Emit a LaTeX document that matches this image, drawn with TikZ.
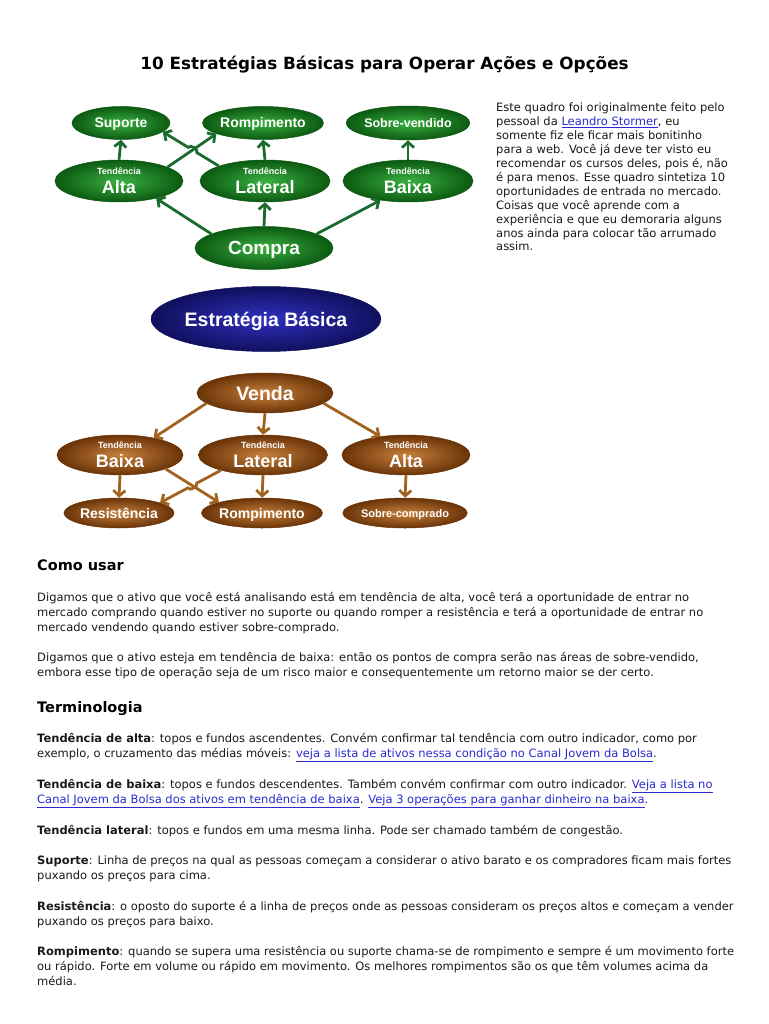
\documentclass[tikz,border=0pt]{standalone}
\usepackage{fontspec}
\setmainfont{DejaVu Sans}
\newfontfamily\nodef{Liberation Sans}
\usetikzlibrary{shapes.geometric,arrows.meta,calc,intersections}
\definecolor{gin}{HTML}{3AB040}
\definecolor{gout}{HTML}{0C5A12}
\definecolor{garr}{HTML}{1B6B2E}
\definecolor{bin}{HTML}{3030C0}
\definecolor{bout}{HTML}{10105E}
\definecolor{brin}{HTML}{C8803C}
\definecolor{brout}{HTML}{6A3408}
\definecolor{brarr}{HTML}{A2621F}
\definecolor{linkblue}{HTML}{2B2BD0}
\definecolor{bodytext}{HTML}{1A1A1A}
\newcommand{\tendtxt}[1]{{\fontsize{9}{10}\selectfont Tendência}\\[5pt]{\fontsize{18}{18}\selectfont #1}}
\newcommand{\lk}[1]{{\color{linkblue}\underline{#1}}}
\begin{document}
\begin{tikzpicture}[x=1pt,y=-1pt,
  ell/.style={ellipse, inner sep=0pt, text=white, font=\nodef\bfseries, align=center},
  gnode/.style={ell, inner color=gin, outer color=gout, draw=gout, line width=0.5pt},
  bnode/.style={ell, inner color=bin, outer color=bout, draw=bout, line width=0.5pt},
  brnode/.style={ell, inner color=brin, outer color=brout, draw=brout, line width=0.5pt},
  one/.style={text depth=0pt, text height=#1},
  garrow/.style={draw=garr, line width=2.8pt, -{Straight Barb[length=5.5pt,width=12pt]}},
  brarrow/.style={draw=brarr, line width=2.8pt, -{Straight Barb[length=5.5pt,width=12pt]}},
  body/.style={anchor=base west, inner sep=0pt, text=bodytext, font=\fontsize{11.5}{14}\selectfont},
  head/.style={anchor=base west, inner sep=0pt, text=black, font=\fontsize{14.5}{17}\selectfont\bfseries}
]
\useasboundingbox[fill=white] (0,0) rectangle (768,1024);

% title
\node[anchor=base, inner sep=0pt, font=\fontsize{16.8}{19}\selectfont\bfseries] (title) at (384.5,70) {10 Estratégias Básicas para Operar Ações e Opções};

% ---------- top diagram (Compra) ----------
\node[gnode, one=10pt, minimum width=98pt, minimum height=33pt, font=\nodef\bfseries\fontsize{14}{14}\selectfont] (sup) at (121,123) {Suporte};
\node[gnode, one=10pt, minimum width=100pt, minimum height=33pt, font=\nodef\bfseries\fontsize{14}{14}\selectfont] (romp) at (263,123) {Rompimento};
\node[gnode, one=9pt, minimum width=99pt, minimum height=34pt, font=\nodef\bfseries\fontsize{12.5}{12.5}\selectfont] (sv) at (408,123) {Sobre-vendido};
\node[gnode, minimum width=128pt, minimum height=42pt] (alta) at (119,181) {\tendtxt{Alta}};
\node[gnode, minimum width=130pt, minimum height=42pt] (lat) at (265,181) {\tendtxt{Lateral}};
\node[gnode, minimum width=130pt, minimum height=42pt] (baixa) at (408,181) {\tendtxt{Baixa}};
\node[gnode, one=13.7pt, minimum width=138pt, minimum height=43pt, font=\nodef\bfseries\fontsize{19}{19}\selectfont] (compra) at (264,248) {Compra};

\draw[garrow] (compra.165) -- (alta.-25);
\draw[garrow] (compra.north) -- (lat.south);
\draw[garrow] (compra.15) -- (baixa.-145);
\draw[garrow] (alta.north) -- (sup.south);
\draw[garrow] (alta.16) -- (romp.-167);
\path[name path=pA] (alta.16) -- (romp.-167);
\path[name path=pB] (lat.162) -- (sup.-12);
\path[name intersections={of=pA and pB, by=hx}];
\draw[garrow] (lat.162) -- ($(hx)!5pt!(lat.162)$) to[bend right=90] ($(hx)!5pt!(sup.-12)$) -- (sup.-12);
\draw[garrow] (lat.north) -- (romp.south);
\draw[garrow] (baixa.north) -- (sv.south);

% ---------- central ----------
\node[bnode, one=14pt, minimum width=227pt, minimum height=65pt, font=\nodef\bfseries\fontsize{19.5}{19.5}\selectfont] (estr) at (266,319) {Estratégia Básica};

% ---------- bottom diagram (Venda) ----------
\node[brnode, one=14pt, minimum width=136pt, minimum height=40pt, font=\nodef\bfseries\fontsize{19.5}{19.5}\selectfont] (venda) at (265,393) {Venda};
\node[brnode, minimum width=126pt, minimum height=40pt] (baixa2) at (120,455) {\tendtxt{Baixa}};
\node[brnode, minimum width=129pt, minimum height=40pt] (lat2) at (263,455) {\tendtxt{Lateral}};
\node[brnode, minimum width=128pt, minimum height=40pt] (alta2) at (406,455) {\tendtxt{Alta}};
\node[brnode, one=10pt, minimum width=98pt, minimum height=30pt, font=\nodef\bfseries\fontsize{14}{14}\selectfont] (res) at (119,513) {Resistência};
\node[brnode, one=10pt, minimum width=97pt, minimum height=30pt, font=\nodef\bfseries\fontsize{14}{14}\selectfont] (romp2) at (262,513) {Rompimento};
\node[brnode, one=8pt, minimum width=96pt, minimum height=30pt, font=\nodef\bfseries\fontsize{11}{11}\selectfont] (sc) at (405,513) {Sobre-comprado};

\draw[brarrow] (venda.-170) -- (baixa2.27);
\draw[brarrow] (venda.south) -- (lat2.north);
\draw[brarrow] (venda.-10) -- (alta2.144);
\draw[brarrow] (baixa2.south) -- (res.north);
\draw[brarrow] (baixa2.-17) -- (romp2.166);
\path[name path=pC] (baixa2.-17) -- (romp2.166);
\path[name path=pD] (lat2.-160) -- (res.14);
\path[name intersections={of=pC and pD, by=hy}];
\draw[brarrow] (lat2.-160) -- ($(hy)!5pt!(lat2.-160)$) to[bend left=90] ($(hy)!5pt!(res.14)$) -- (res.14);
\draw[brarrow] (lat2.south) -- (romp2.north);
\draw[brarrow] (alta2.south) -- (sc.north);

% ---------- right paragraph ----------
\begin{scope}[every node/.style={body}]
\node (r1) at (496,111.7) {Este quadro foi originalmente feito pelo};
\node (r2) at (496,125.6) {pessoal da \lk{Leandro Stormer}, eu};
\node (r3) at (496,139.6) {somente fiz ele ficar mais bonitinho};
\node (r4) at (496,153.5) {para a web. Você já deve ter visto eu};
\node (r5) at (496,167.4) {recomendar os cursos deles, pois é, não};
\node (r6) at (496,181.4) {é para menos. Esse quadro sintetiza 10};
\node (r7) at (496,195.3) {oportunidades de entrada no mercado.};
\node (r8) at (496,209.2) {Coisas que você aprende com a};
\node (r9) at (496,223.1) {experiência e que eu demoraria alguns};
\node (r10) at (496,237.1) {anos ainda para colocar tão arrumado};
\node (r11) at (496,251) {assim.};

% ---------- body ----------
\node[head] (h1) at (37,570) {Como usar};
\node (a1) at (37,601) {Digamos que o ativo que você está analisando está em tendência de alta, você terá a oportunidade de entrar no};
\node (a2) at (37,616) {mercado comprando quando estiver no suporte ou quando romper a resistência e terá a oportunidade de entrar no};
\node (a3) at (37,631) {mercado vendendo quando estiver sobre-comprado.};
\node (b1) at (37,661) {Digamos que o ativo esteja em tendência de baixa: então os pontos de compra serão nas áreas de sobre-vendido,};
\node (b2) at (37,676) {embora esse tipo de operação seja de um risco maior e consequentemente um retorno maior se der certo.};

\node[head] (h2) at (37,712) {Terminologia};
\node (c1) at (37,742) {\textbf{Tendência de alta}: topos e fundos ascendentes. Convém confirmar tal tendência com outro indicador, como por};
\node (c2) at (37,757) {exemplo, o cruzamento das médias móveis: \lk{veja a lista de ativos nessa condição no Canal Jovem da Bolsa}.};
\node (d1) at (37,788) {\textbf{Tendência de baixa}: topos e fundos descendentes. Também convém confirmar com outro indicador. \lk{Veja a lista no}};
\node (d2) at (37,803) {\lk{Canal Jovem da Bolsa dos ativos em tendência de baixa}. \lk{Veja 3 operações para ganhar dinheiro na baixa}.};
\node (e1) at (37,834) {\textbf{Tendência lateral}: topos e fundos em uma mesma linha. Pode ser chamado também de congestão.};
\node (f1) at (37,864) {\textbf{Suporte}: Linha de preços na qual as pessoas começam a considerar o ativo barato e os compradores ficam mais fortes};
\node (f2) at (37,879) {puxando os preços para cima.};
\node (g1) at (37,910) {\textbf{Resistência}: o oposto do suporte é a linha de preços onde as pessoas consideram os preços altos e começam a vender};
\node (g2) at (37,925) {puxando os preços para baixo.};
\node (k1) at (37,955) {\textbf{Rompimento}: quando se supera uma resistência ou suporte chama-se de rompimento e sempre é um movimento forte};
\node (k2) at (37,970) {ou rápido. Forte em volume ou rápido em movimento. Os melhores rompimentos são os que têm volumes acima da};
\node (k3) at (37,985) {média.};
\end{scope}
\end{tikzpicture}
\end{document}
